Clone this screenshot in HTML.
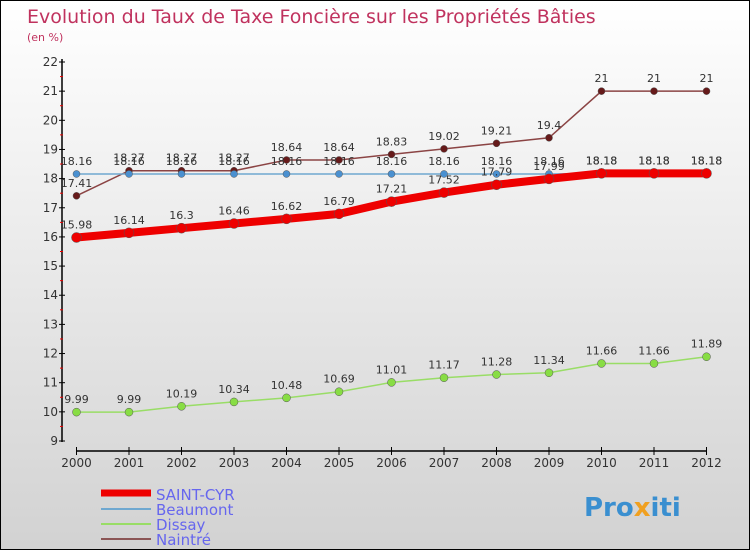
<!DOCTYPE html>
<html><head><meta charset="utf-8"><style>
body{margin:0}
#c{position:relative;width:750px;height:550px;box-sizing:border-box;border:1px solid #000;background:linear-gradient(#ffffff,#d2d2d2);font-family:"DejaVu Sans","Liberation Sans",sans-serif;overflow:hidden}
</style></head><body>
<div id="c">
<svg id="s" width="750" height="550" style="position:absolute;left:0;top:0">
<text x="26" y="22" font-size="19" fill="#c0325e">Evolution du Taux de Taxe Foncière sur les Propriétés Bâties</text>
<text x="26" y="40" font-size="11" fill="#c0325e">(en %)</text>
<g id="ax"></g><g id="series"></g>
<g>
<line x1="100" y1="492" x2="150" y2="492" stroke="#ee0000" stroke-width="7"/>
<text x="155" y="499" font-size="15" fill="#6666ee">SAINT-CYR</text>
<line x1="100" y1="508" x2="150" y2="508" stroke="#6fa8d0" stroke-width="2"/>
<text x="155" y="514" font-size="15" fill="#6666ee">Beaumont</text>
<line x1="100" y1="523" x2="150" y2="523" stroke="#99dd66" stroke-width="2"/>
<text x="155" y="529" font-size="15" fill="#6666ee">Dissay</text>
<line x1="100" y1="538" x2="150" y2="538" stroke="#8b5555" stroke-width="2"/>
<text x="155" y="544" font-size="15" fill="#6666ee">Naintré</text>
</g>
<text x="583" y="515" font-size="26" font-weight="bold" fill="#3a8fd0">Pro<tspan fill="#f0a020">x</tspan>iti</text>
</svg>
</div>
<script>
const years=["2000","2001","2002","2003","2004","2005","2006","2007","2008","2009","2010","2011","2012"];
const saintCyr=[15.98,16.14,16.3,16.46,16.62,16.79,17.21,17.52,17.79,17.99,18.18,18.18,18.18];
const beaumont=[18.16,18.16,18.16,18.16,18.16,18.16,18.16,18.16,18.16,18.16,18.18,18.18,18.18];
const dissay=[9.99,9.99,10.19,10.34,10.48,10.69,11.01,11.17,11.28,11.34,11.66,11.66,11.89];
const naintre=[17.41,18.27,18.27,18.27,18.64,18.64,18.83,19.02,19.21,19.4,21,21,21];
const yTicks=[9,10,11,12,13,14,15,16,17,18,19,20,21,22];
const NS="http://www.w3.org/2000/svg";
const X=i=>75.5+i*52.5, Y=v=>440-(v-9)*(379/13);
function mk(t,a,p){const e=document.createElementNS(NS,t);for(const k in a)e.setAttribute(k,a[k]);p.appendChild(e);return e;}
const ax=document.getElementById('ax');
let e=mk('line',{x1:61,y1:58,x2:61,y2:441,stroke:'#000','stroke-width':1.5},ax);


e=mk('line',{x1:75,y1:450,x2:706,y2:450,stroke:'#000','stroke-width':1.5},ax);


yTicks.forEach(v=>{mk('line',{x1:58,y1:Y(v),x2:64,y2:Y(v),stroke:'#000'},ax);
if(v<22)mk('line',{x1:59,y1:Y(v+0.5),x2:62,y2:Y(v+0.5),stroke:'#e00'},ax);
e=mk('text',{x:57,y:Y(v)+4,'font-size':12,'text-anchor':'end',fill:'#333'},ax);e.textContent=v;

});
years.forEach((y,i)=>{mk('line',{x1:X(i),y1:446,x2:X(i),y2:454,stroke:'#000'},ax);
e=mk('text',{x:X(i),y:466,'font-size':12,'text-anchor':'middle',fill:'#333'},ax);e.textContent=y;

});
const sg=document.getElementById('series');
function draw(name,arr,col,w,r,dot){
const g=mk('g',{},sg);


mk('polyline',{points:arr.map((v,i)=>X(i)+','+Y(v)).join(' '),fill:'none',stroke:col,'stroke-width':w},g);
arr.forEach((v,i)=>{const c=mk('circle',{cx:X(i),cy:Y(v),r:r,fill:dot,stroke:'#555','stroke-width':0.5},g);


const t=mk('text',{x:X(i),y:Y(v)-9,'font-size':11,'text-anchor':'middle',fill:'#333'},g);t.textContent=v;

});}
draw('dissay',dissay,'#99dd66',1.5,4,'#88dd44');
draw('naintre',naintre,'#8b4444',1.5,3.5,'#661a1a');
draw('beaumont',beaumont,'#6fa8d0',1.5,3.5,'#4a90d0');
draw('saint-cyr',saintCyr,'#ee0000',8,5,'#ee0000');
</script>
</body></html>
